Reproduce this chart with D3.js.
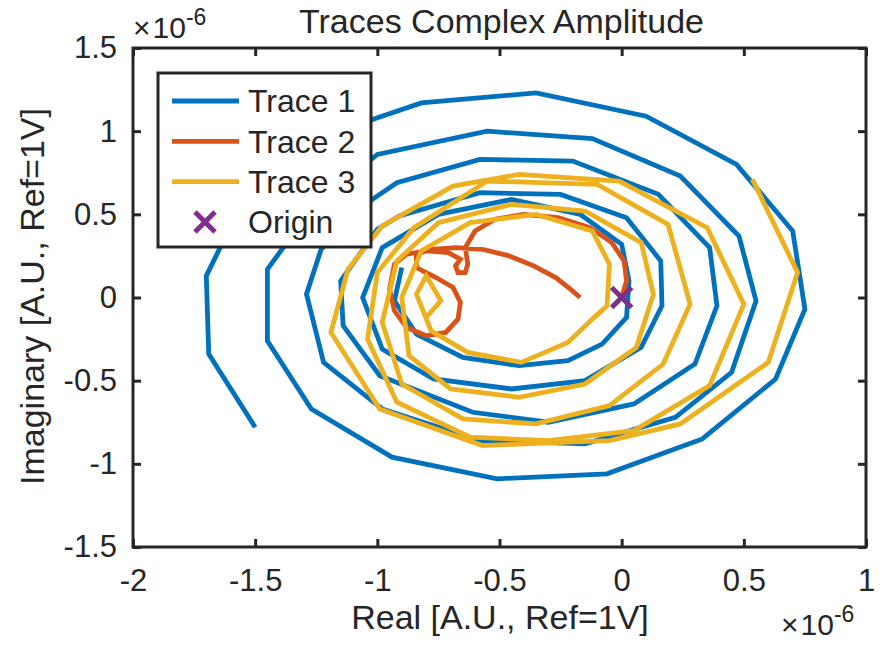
<!DOCTYPE html>
<html>
<head>
<meta charset="utf-8">
<script src="https://cdn.jsdelivr.net/npm/d3@7"></script>
<style>
  html, body { margin: 0; padding: 0; background: #fff; }
  svg { display: block; }
  text { font-family: "Liberation Sans", Arial, sans-serif; fill: #262626; }
</style>
</head>
<body>
<svg id="chart" width="883" height="645"></svg>
<script>
// Values are in units of 1e-6 (the axes carry the x10^-6 multiplier)
const xTicks = [-2, -1.5, -1, -0.5, 0, 0.5, 1];
const yTicks = [-1.5, -1, -0.5, 0, 0.5, 1, 1.5];
const seriesNames = ['Trace 1', 'Trace 2', 'Trace 3'];
const seriesColors = ['#0072BD', '#D95319', '#EDB120'];
const originColor = '#7E2F8E';

// Trace 1 (blue spiral), [real, imag]
const trace1 = [
  [-1.50, -0.78], [-1.69, -0.34], [-1.70, 0.13], [-1.64, 0.31], [-1.48, 0.62],
  [-1.26, 0.89], [-1.02, 1.07], [-0.82, 1.17], [-0.35, 1.23], [0.10, 1.09],
  [0.47, 0.80], [0.70, 0.40], [0.75, -0.07], [0.63, -0.49], [0.33, -0.85],
  [-0.06, -1.06], [-0.51, -1.09],
  [-0.94, -0.96], [-1.27, -0.67], [-1.45, -0.26], [-1.45, 0.17], [-1.37, 0.33],
  [-1.20, 0.62], [-1.00, 0.86], [-0.55, 1.00], [-0.12, 0.955], [0.24, 0.73],
  [0.48, 0.37], [0.55, -0.02], [0.45, -0.45], [0.22, -0.72], [-0.15, -0.88],
  [-0.58, -0.86],
  [-0.98, -0.67], [-1.22, -0.39], [-1.29, 0.02], [-1.23, 0.29], [-1.02, 0.59],
  [-0.92, 0.69], [-0.58, 0.83], [-0.20, 0.82], [0.15, 0.62], [0.36, 0.30],
  [0.39, -0.05], [0.30, -0.40], [0.05, -0.64], [-0.30, -0.75], [-0.61, -0.69],
  [-0.99, -0.47], [-1.14, -0.17], [-1.15, 0.10], [-1.00, 0.41], [-0.91, 0.49],
  [-0.58, 0.63], [-0.25, 0.62], [0.02, 0.48], [0.16, 0.22], [0.165, -0.05],
  [0.08, -0.30], [-0.15, -0.50], [-0.45, -0.55], [-0.77, -0.49], [-0.98, -0.31],
  [-1.06, 0.00], [-0.98, 0.30], [-0.75, 0.50], [-0.45, 0.59], [-0.17, 0.50],
  [0.00, 0.32], [0.03, 0.10], [0.02, -0.12], [-0.08, -0.28], [-0.22, -0.38],
  [-0.42, -0.41], [-0.65, -0.36], [-0.84, -0.22], [-0.93, -0.02], [-0.90, 0.18]
];

// Trace 2 (orange curve)
const trace2 = [
  [0.00, 0.00], [0.02, 0.10], [0.01, 0.22], [-0.04, 0.33], [-0.13, 0.42],
  [-0.26, 0.48], [-0.40, 0.50], [-0.52, 0.47], [-0.60, 0.40], [-0.64, 0.30],
  [-0.63, 0.20], [-0.64, 0.15], [-0.67, 0.15], [-0.68, 0.19], [-0.66, 0.23],
  [-0.71, 0.27], [-0.80, 0.28], [-0.88, 0.26], [-0.93, 0.20], [-0.95, 0.05],
  [-0.93, -0.08], [-0.88, -0.18], [-0.80, -0.23], [-0.72, -0.21], [-0.67, -0.13],
  [-0.66, -0.03], [-0.69, 0.06], [-0.76, 0.12], [-0.84, 0.18], [-0.84, 0.26],
  [-0.78, 0.29], [-0.68, 0.30], [-0.57, 0.29], [-0.46, 0.25], [-0.36, 0.19],
  [-0.27, 0.12], [-0.21, 0.05], [-0.17, 0.00]
];

// Trace 3 (yellow spiral)
const trace3 = [
  [0.535, 0.71], [0.72, 0.15], [0.60, -0.39], [0.24, -0.76], [-0.05, -0.86],
  [-0.22, -0.87], [-0.57, -0.89], [-0.99, -0.67], [-1.19, -0.21], [-1.12, 0.17],
  [-0.98, 0.43], [-0.69, 0.67], [-0.42, 0.74], [-0.01, 0.70], [0.35, 0.42],
  [0.50, -0.04], [0.36, -0.53], [0.05, -0.80], [-0.30, -0.86], [-0.62, -0.84],
  [-0.92, -0.63], [-1.04, -0.25], [-1.00, 0.15], [-0.85, 0.42], [-0.55, 0.70],
  [-0.10, 0.68], [0.19, 0.44], [0.28, -0.04],
  [0.17, -0.40], [-0.05, -0.65], [-0.35, -0.76], [-0.65, -0.73], [-0.90, -0.52],
  [-0.98, -0.15], [-0.92, 0.22], [-0.75, 0.45], [-0.45, 0.56], [-0.15, 0.52],
  [0.08, 0.33], [0.13, 0.02],
  [0.06, -0.30], [-0.15, -0.52], [-0.42, -0.60], [-0.70, -0.55], [-0.87, -0.35],
  [-0.90, 0.00], [-0.82, 0.28], [-0.62, 0.45], [-0.35, 0.50], [-0.12, 0.40],
  [-0.05, 0.20], [-0.06, -0.05],
  [-0.12, -0.13], [-0.22, -0.27], [-0.41, -0.39], [-0.63, -0.33], [-0.78, -0.20],
  [-0.84, 0.02], [-0.80, 0.13], [-0.74, -0.02], [-0.80, -0.12]
];

const origin = [[0, 0]];

const svg = d3.select('#chart');
const plot = { left: 133, right: 866, top: 48, bottom: 547 };

const x = d3.scaleLinear().domain([-2, 1]).range([plot.left, plot.right]);
const y = d3.scaleLinear().domain([-1.5, 1.5]).range([plot.bottom, plot.top]);

const axisColor = '#262626';
const tickFont = 31;
const labelFont = 34;

// Clip for data
svg.append('defs').append('clipPath').attr('id', 'clip')
  .append('rect')
  .attr('x', plot.left).attr('y', plot.top)
  .attr('width', plot.right - plot.left).attr('height', plot.bottom - plot.top);

// Traces
const line = d3.line().x(d => x(d[0])).y(d => y(d[1]));
const traces = [trace1, trace2, trace3];
const g = svg.append('g').attr('clip-path', 'url(#clip)');
traces.forEach((t, i) => {
  g.append('path')
    .datum(t)
    .attr('d', line)
    .attr('fill', 'none')
    .attr('stroke', seriesColors[i])
    .attr('stroke-width', 4.8)
    .attr('stroke-linejoin', 'miter')
    .attr('stroke-miterlimit', 3);
});

// Origin marker
const xMark = (cx, cy, s) => `M${cx - s},${cy - s}L${cx + s},${cy + s}M${cx - s},${cy + s}L${cx + s},${cy - s}`;
g.selectAll('path.origin')
  .data(origin)
  .join('path')
  .attr('class', 'origin')
  .attr('d', d => xMark(x(d[0]), y(d[1]), 10))
  .attr('stroke', originColor)
  .attr('stroke-width', 5)
  .attr('fill', 'none');

// Axes (ticks inside, mirrored on all four sides)
const tickLen = 8;
const fmt = d => d3.format('~g')(d).replace('\u2212', '-');
const bottomAxis = d3.axisBottom(x).tickValues(xTicks).tickSize(-tickLen).tickPadding(22).tickFormat(fmt);
const topAxis = d3.axisTop(x).tickValues(xTicks).tickSize(-tickLen).tickFormat('');
const leftAxis = d3.axisLeft(y).tickValues(yTicks).tickSize(-tickLen).tickPadding(16).tickFormat(fmt);
const rightAxis = d3.axisRight(y).tickValues(yTicks).tickSize(-tickLen).tickFormat('');

function styleAxis(sel) {
  sel.select('.domain').remove();
  sel.selectAll('.tick line').attr('stroke', axisColor).attr('stroke-width', 3);
  sel.selectAll('.tick text')
    .attr('fill', axisColor)
    .style('font-size', tickFont + 'px')
    .style('font-family', '"Liberation Sans", Arial, sans-serif');
}

svg.append('g').attr('transform', `translate(0,${plot.bottom})`).call(bottomAxis).call(styleAxis);
svg.append('g').attr('transform', `translate(0,${plot.top})`).call(topAxis).call(styleAxis);
svg.append('g').attr('transform', `translate(${plot.left},0)`).call(leftAxis).call(styleAxis);
svg.append('g').attr('transform', `translate(${plot.right},0)`).call(rightAxis).call(styleAxis);

// Box
svg.append('rect')
  .attr('x', plot.left).attr('y', plot.top)
  .attr('width', plot.right - plot.left).attr('height', plot.bottom - plot.top)
  .attr('fill', 'none')
  .attr('stroke', axisColor)
  .attr('stroke-width', 3);

// Exponent labels
function exponentLabel(px, py) {
  const t = svg.append('text')
    .attr('x', px).attr('y', py)
    .style('font-size', '30px');
  t.append('tspan').text('\u00d7');
  t.append('tspan').attr('dx', 2).text('10');
  t.append('tspan').attr('dy', -13).style('font-size', '23px').text('-6');
}
exponentLabel(133, 38);
exponentLabel(781, 635);

// Title and axis labels
svg.append('text')
  .attr('x', (plot.left + plot.right) / 2 + 2).attr('y', 33)
  .attr('text-anchor', 'middle')
  .style('font-size', labelFont + 'px')
  .text('Traces Complex Amplitude');

svg.append('text')
  .attr('x', 500).attr('y', 629)
  .attr('text-anchor', 'middle')
  .style('font-size', labelFont + 'px')
  .text('Real [A.U., Ref=1V]');

svg.append('text')
  .attr('transform', `translate(44,${(plot.top + plot.bottom) / 2 - 1}) rotate(-90)`)
  .attr('text-anchor', 'middle')
  .style('font-size', labelFont + 'px')
  .text('Imaginary [A.U., Ref=1V]');

// Legend
const legend = svg.append('g').attr('transform', 'translate(158,73)');
legend.append('rect')
  .attr('width', 213).attr('height', 174)
  .attr('fill', '#fff')
  .attr('stroke', axisColor)
  .attr('stroke-width', 3);

const legendItems = seriesNames.map((n, i) => ({ name: n, color: seriesColors[i], type: 'line' }))
  .concat([{ name: 'Origin', color: originColor, type: 'marker' }]);
const rowY = d3.scalePoint().domain(legendItems.map(d => d.name)).range([28, 149]);

const item = legend.selectAll('g.item')
  .data(legendItems)
  .join('g')
  .attr('class', 'item')
  .attr('transform', d => `translate(0,${rowY(d.name)})`);

item.filter(d => d.type === 'line')
  .append('line')
  .attr('x1', 14).attr('x2', 81).attr('y1', 0).attr('y2', 0)
  .attr('stroke', d => d.color)
  .attr('stroke-width', 4.8);

item.filter(d => d.type === 'marker')
  .append('path')
  .attr('d', xMark(47, 0, 10))
  .attr('stroke', d => d.color)
  .attr('stroke-width', 5);

item.append('text')
  .attr('x', 90).attr('y', 0).attr('dy', '0.35em')
  .style('font-size', '32px')
  .text(d => d.name);
</script>
</body>
</html>
